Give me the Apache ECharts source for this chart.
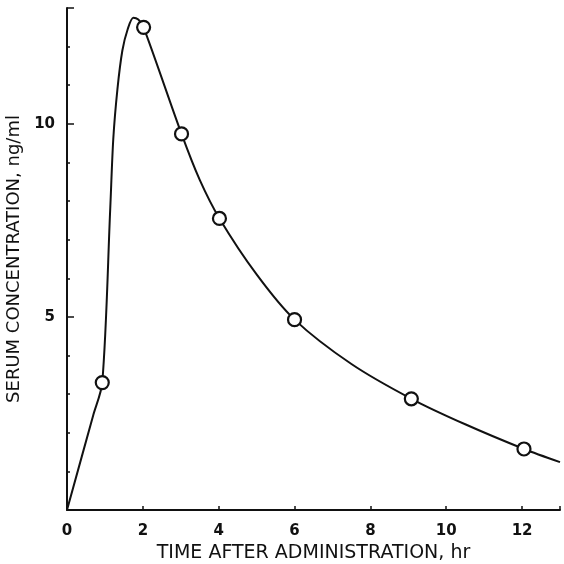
<!DOCTYPE html>
<html>
<head>
<meta charset="utf-8">
<script src="https://cdn.jsdelivr.net/npm/echarts@6/dist/echarts.min.js"></script>
<style>
  html, body { margin: 0; padding: 0; background: #fff; }
  #chart { width: 564px; height: 564px; }
</style>
</head>
<body>
<div id="chart"></div>
<script>
// measured points (hr, ng/ml)
var pointTimes = [0.93, 2.02, 3.02, 4.02, 6.0, 9.08, 12.05];
var pointConc = [3.3, 12.5, 9.74, 7.55, 4.93, 2.88, 1.58];

// hand drawn curve
var curveTimes = [0, 0.69, 0.93, 1.14, 1.22, 1.33, 1.46, 1.6, 1.75, 1.88, 2.02, 3.02, 3.5, 4.02, 5.0, 6.0, 7.5, 9.08, 10.5, 12.05, 13];
var curveConc = [0, 2.45, 3.3, 7.8, 9.6, 10.9, 11.9, 12.45, 12.75, 12.7, 12.5, 9.74, 8.55, 7.55, 6.1, 4.93, 3.78, 2.88, 2.22, 1.58, 1.24];

var xLabels = [0, 2, 4, 6, 8, 10, 12];
var yLabels = [5, 10];

var chart = echarts.init(document.getElementById('chart'));

var points = pointTimes.map(function (t, i) { return [t, pointConc[i]]; });
var curve = curveTimes.map(function (t, i) { return [t, curveConc[i]]; });

var font = 'DejaVu Sans';

chart.setOption({
    animation: false,
    backgroundColor: '#fff',
    grid: { left: 67, right: 4, top: 8, bottom: 54, outerBoundsMode: 'none' },
    xAxis: {
        type: 'value', min: 0, max: 13, interval: 2,
        name: 'TIME AFTER ADMINISTRATION, hr',
        nameLocation: 'middle', nameGap: 30,
        nameTextStyle: { color: '#111', fontFamily: font, fontSize: 19 },
        axisLine: { lineStyle: { color: '#111', width: 2 } },
        axisTick: { inside: true, length: 4, lineStyle: { color: '#111', width: 1.5 } },
        axisLabel: {
            color: '#111', fontFamily: font, fontWeight: 'bold', fontSize: 15, margin: 14,
            formatter: function (v) { return xLabels.indexOf(v) >= 0 ? String(v) : ''; }
        },
        splitLine: { show: false }
    },
    yAxis: [{
        type: 'value', min: 0, max: 13, interval: 1,
        name: 'SERUM CONCENTRATION, ng/ml',
        nameLocation: 'middle', nameGap: 37, nameRotate: 90,
        nameTextStyle: { color: '#111', fontFamily: font, fontSize: 18 },
        axisLine: { lineStyle: { color: '#111', width: 2 } },
        axisTick: { inside: true, length: 3, lineStyle: { color: '#111', width: 1.5 } },
        axisLabel: {
            color: '#111', fontFamily: font, fontWeight: 'bold', fontSize: 15, margin: 12,
            formatter: function (v) { return yLabels.indexOf(v) >= 0 ? String(v) : ''; }
        },
        splitLine: { show: false }
    }, {
        // longer ticks at the labelled values
        type: 'value', min: 0, max: 13, interval: 5, position: 'left',
        axisLine: { show: false },
        axisTick: { inside: true, length: 7, lineStyle: { color: '#111', width: 1.5 } },
        axisLabel: { show: false },
        splitLine: { show: false }
    }],
    series: [{
        type: 'line',
        data: curve,
        smooth: 0.3,
        showSymbol: false,
        lineStyle: { color: '#111', width: 2 },
        z: 2
    }, {
        type: 'scatter',
        data: points,
        symbol: 'circle',
        symbolSize: 13,
        itemStyle: { color: '#fff', borderColor: '#111', borderWidth: 2.2, opacity: 1 },
        z: 3
    }]
});
</script>
</body>
</html>
